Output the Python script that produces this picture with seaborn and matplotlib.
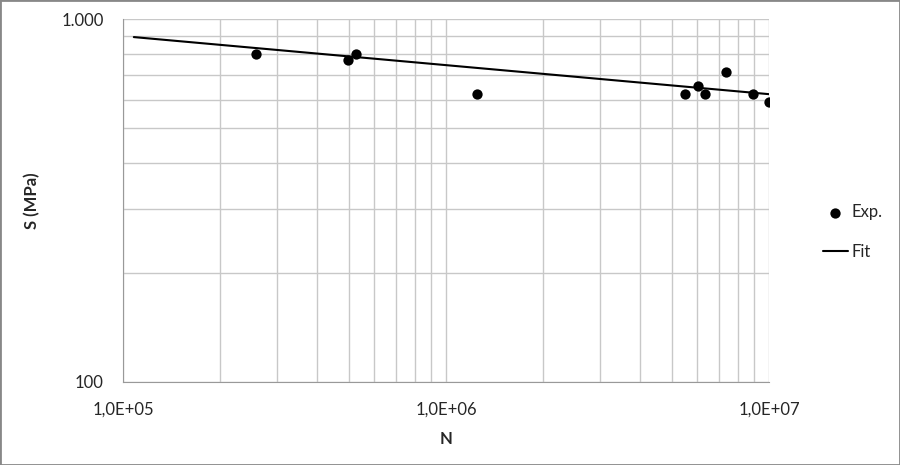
import numpy as np
import pandas as pd
import matplotlib.pyplot as plt
import matplotlib.ticker as mticker
import seaborn as sns

# experimental points (cycles, stress)
exp_N = [2.58e5, 4.98e5, 5.26e5, 1.25e6, 5.5e6, 6.03e6, 6.34e6, 7.36e6, 8.9e6, 1.0e7]
exp_S = [801, 771, 801, 621, 621, 653, 621, 714, 621, 590]

# fitted power law, endpoints
fit_N = [1.08e5, 1.0e7]
fit_S = [892, 621]

sns.set_style("white")
plt.rcParams['font.family'] = ['Lato', 'DejaVu Sans']

df_exp = pd.DataFrame({"N": exp_N, "S": exp_S})
df_fit = pd.DataFrame({"N": fit_N, "S": fit_S})

fig = plt.figure(figsize=(9, 4.65), dpi=100)
ax = fig.add_axes([0.1367, 0.1785, 0.8544 - 0.1367, 0.959 - 0.1785])

sns.scatterplot(data=df_exp, x="N", y="S", ax=ax, color="black", s=55,
                edgecolor="black", linewidth=0, label="Exp.", zorder=3)
sns.lineplot(data=df_fit, x="N", y="S", ax=ax, color="black", linewidth=1.5,
             label="Fit", zorder=3)

ax.set_xscale("log")
ax.set_yscale("log")
ax.set_xlim(1e5, 1e7)
ax.set_ylim(100, 1000)

ax.xaxis.set_major_locator(mticker.FixedLocator([1e5, 1e6, 1e7]))
ax.xaxis.set_major_formatter(mticker.FixedFormatter(["1,0E+05", "1,0E+06", "1,0E+07"]))
ax.yaxis.set_major_locator(mticker.FixedLocator([100, 1000]))
ax.yaxis.set_major_formatter(mticker.FixedFormatter(["100", "1.000"]))
ax.xaxis.set_minor_locator(mticker.LogLocator(base=10, subs=np.arange(2, 10)))
ax.yaxis.set_minor_locator(mticker.LogLocator(base=10, subs=np.arange(2, 10)))
ax.xaxis.set_minor_formatter(mticker.NullFormatter())
ax.yaxis.set_minor_formatter(mticker.NullFormatter())

ax.grid(which="both", color="#c8c8c8", linewidth=1)
ax.tick_params(which="major", length=6, color="#999999", labelsize=12, pad=8)
ax.tick_params(which="minor", length=0)
for side in ["top", "right"]:
    ax.spines[side].set_visible(False)
for side in ["left", "bottom"]:
    ax.spines[side].set_color("#999999")

ax.set_xlabel("N", fontsize=12, fontweight="bold", labelpad=10)
ax.set_ylabel("S (MPa)", fontsize=12, fontweight="bold")
ax.yaxis.set_label_coords(-0.128, 0.5)

ax.legend(loc="center left", bbox_to_anchor=(1.06, 0.413), frameon=False,
          fontsize=12, handlelength=1.5, handletextpad=0.2, labelspacing=1.4)

fig.patches.append(plt.Rectangle((0, 0), 1, 1, transform=fig.transFigure,
                                 fill=False, edgecolor="#888888", linewidth=2))

fig.savefig("out.png", dpi=100)
